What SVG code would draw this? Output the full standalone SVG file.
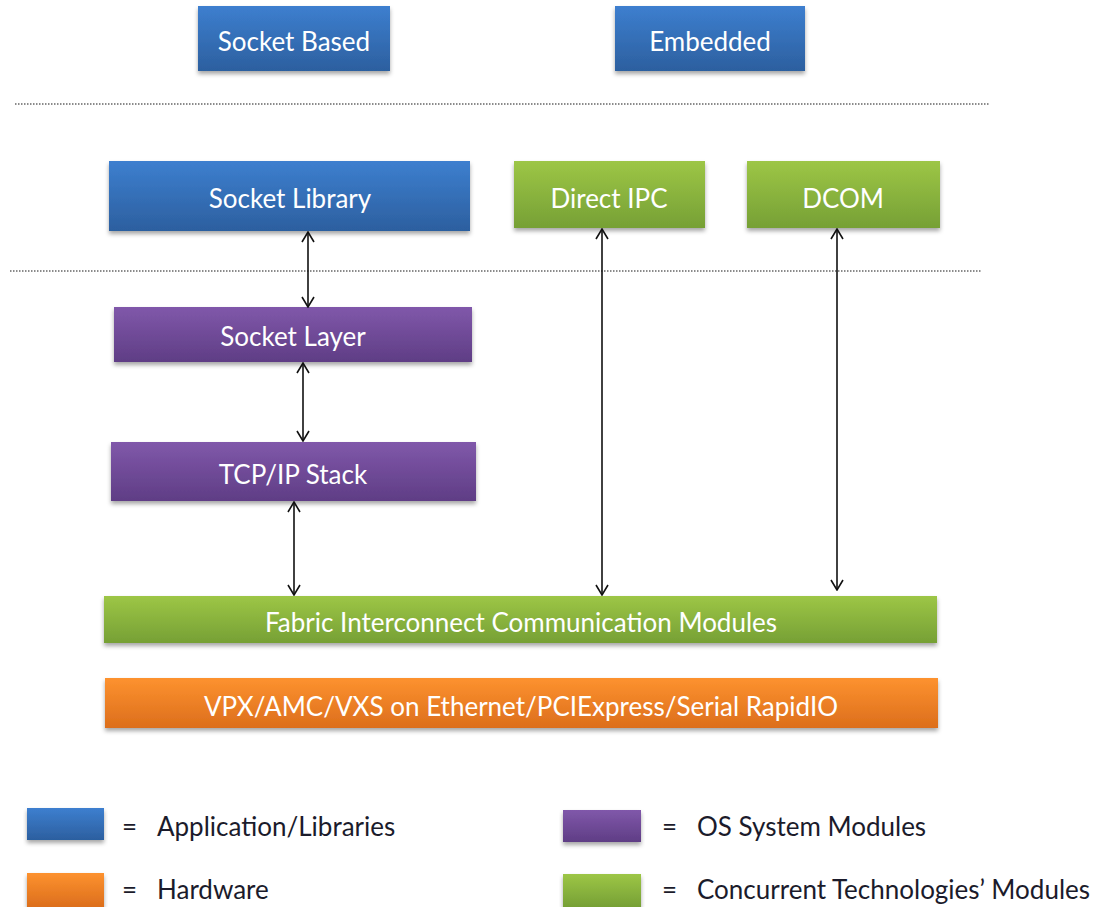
<svg xmlns="http://www.w3.org/2000/svg" width="1099" height="907" viewBox="0 0 1099 907">
<defs>
<linearGradient id="gBlue" x1="0" y1="0" x2="0" y2="1"><stop offset="0" stop-color="#3d7fcf"/><stop offset="1" stop-color="#2c5f9f"/></linearGradient>
<linearGradient id="gGreen" x1="0" y1="0" x2="0" y2="1"><stop offset="0" stop-color="#9dc646"/><stop offset="1" stop-color="#76a035"/></linearGradient>
<linearGradient id="gPurple" x1="0" y1="0" x2="0" y2="1"><stop offset="0" stop-color="#8058aa"/><stop offset="1" stop-color="#5f3d85"/></linearGradient>
<linearGradient id="gOrange" x1="0" y1="0" x2="0" y2="1"><stop offset="0" stop-color="#fd922f"/><stop offset="1" stop-color="#dc6e1c"/></linearGradient>
<filter id="sh" x="-5%" y="-20%" width="110%" height="150%"><feDropShadow dx="0" dy="3" stdDeviation="2" flood-color="#000" flood-opacity="0.35"/></filter>
<marker id="ah" viewBox="0 0 12 14" refX="11" refY="7" markerWidth="12" markerHeight="14" markerUnits="userSpaceOnUse" orient="auto-start-reverse"><polyline points="1,1 11,7 1,13" fill="none" stroke="#111" stroke-width="1.6"/></marker>
</defs>
<style>
.box{filter:url(#sh);}
.lbl{font-family:Lato,"Open Sans","Liberation Sans",sans-serif;font-size:26px;fill:#fff;text-anchor:middle;dominant-baseline:central;}
.leg{font-family:Lato,"Open Sans","Liberation Sans",sans-serif;font-size:26px;fill:#1b1b2b;dominant-baseline:central;}
.dot{stroke:#666;stroke-width:1.5;stroke-dasharray:1.5 1.5;fill:none;}
.con{stroke:#111;stroke-width:1.6;fill:none;marker-start:url(#ah);marker-end:url(#ah);}
</style>
<rect width="1099" height="907" fill="#fff"/>
<g id="separators">
<line class="dot" x1="15" y1="104" x2="990" y2="104"/>
<line class="dot" x1="10" y1="271" x2="982" y2="271" stroke="#999"/>
</g>
<g id="socket-based"><rect class="box" x="198" y="6" width="192" height="65" fill="url(#gBlue)"/><text class="lbl" x="294" y="41">Socket Based</text></g>
<g id="embedded"><rect class="box" x="615" y="6" width="190" height="65" fill="url(#gBlue)"/><text class="lbl" x="710" y="41">Embedded</text></g>
<g id="socket-library"><rect class="box" x="109" y="161" width="361" height="70" fill="url(#gBlue)"/><text class="lbl" x="290" y="198">Socket Library</text></g>
<g id="direct-ipc"><rect class="box" x="514" y="161" width="191" height="67" fill="url(#gGreen)"/><text class="lbl" x="609" y="198">Direct IPC</text></g>
<g id="dcom"><rect class="box" x="747" y="161" width="193" height="67" fill="url(#gGreen)"/><text class="lbl" x="843" y="198">DCOM</text></g>
<g id="socket-layer"><rect class="box" x="114" y="307" width="358" height="55" fill="url(#gPurple)"/><text class="lbl" x="293" y="336">Socket Layer</text></g>
<g id="tcpip-stack"><rect class="box" x="111" y="442" width="365" height="59" fill="url(#gPurple)"/><text class="lbl" x="293" y="474">TCP/IP Stack</text></g>
<g id="fabric"><rect class="box" x="104" y="596" width="833" height="47" fill="url(#gGreen)"/><text class="lbl" x="521" y="622">Fabric Interconnect Communication Modules</text></g>
<g id="vpx"><rect class="box" x="105" y="678" width="833" height="50" fill="url(#gOrange)"/><text class="lbl" x="521" y="706">VPX/AMC/VXS on Ethernet/PCIExpress/Serial RapidIO</text></g>
<g id="connectors">
<line class="con" x1="308" y1="232" x2="308" y2="307"/>
<line class="con" x1="303" y1="363" x2="303" y2="441"/>
<line class="con" x1="294" y1="502" x2="294" y2="595"/>
<line class="con" x1="602" y1="229" x2="602" y2="595"/>
<line class="con" x1="837" y1="229" x2="837" y2="590"/>
</g>
<g id="legend-app"><rect class="box" x="27" y="808" width="77" height="32" fill="url(#gBlue)"/><text class="leg" x="122" y="826">=</text><text class="leg" x="157" y="826">Application/Libraries</text></g>
<g id="legend-hw"><rect class="box" x="27" y="873" width="77" height="34" fill="url(#gOrange)"/><text class="leg" x="122" y="889">=</text><text class="leg" x="157" y="889">Hardware</text></g>
<g id="legend-os"><rect class="box" x="563" y="810" width="78" height="32" fill="url(#gPurple)"/><text class="leg" x="662" y="826">=</text><text class="leg" x="697" y="826">OS System Modules</text></g>
<g id="legend-ct"><rect class="box" x="563" y="874" width="78" height="33" fill="url(#gGreen)"/><text class="leg" x="662" y="889">=</text><text class="leg" x="697" y="889">Concurrent Technologies’ Modules</text></g>
</svg>
